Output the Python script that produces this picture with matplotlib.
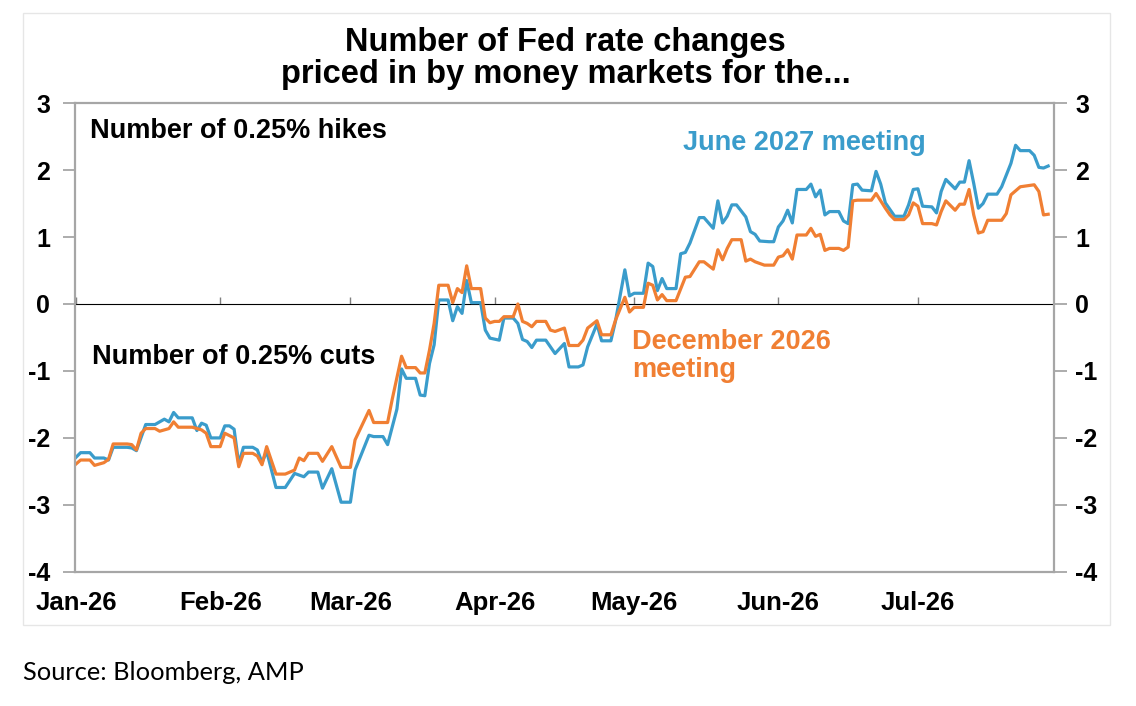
import pandas as pd
import matplotlib.pyplot as plt
from matplotlib.patches import Rectangle

plt.rcParams['font.family'] = ['Liberation Sans', 'DejaVu Sans']

# day offsets from 1 Jan 2026 and number of 0.25% moves priced in
start = pd.Timestamp('2026-01-01')

june27_days = [0, 1, 3, 4, 6, 7, 8, 11, 12, 13, 15, 17, 19, 20, 21, 22, 25, 26, 27, 28,
               29, 31, 32, 33, 34, 35, 36, 38, 39, 40, 41, 43, 45, 47, 49, 50, 52, 53, 55, 57,
               59, 60, 63, 64, 66, 67, 69, 70, 71, 73, 74, 75, 76, 77, 78, 80, 81, 82, 83, 84,
               85, 87, 88, 89, 91, 92, 94, 95, 96, 97, 98, 99, 101, 103, 105, 106, 108, 109, 110, 112,
               113, 115, 116, 118, 119, 120, 122, 123, 124, 125, 126, 127, 129, 130, 131, 132, 134, 135, 137, 138,
               139, 140, 141, 142, 144, 145, 146, 147, 149, 150, 151, 152, 153, 154, 155, 157, 158, 159, 160, 161,
               162, 164, 165, 166, 167, 168, 169, 171, 172, 173, 174, 176, 178, 179, 180, 181, 182, 184, 185, 186,
               187, 189, 190, 191, 192, 193, 194, 195, 196, 198, 199, 201, 202, 203, 205, 206, 207, 208, 209]
june27_vals = [-2.29, -2.22, -2.22, -2.30, -2.30, -2.33, -2.14, -2.14, -2.15, -2.19, -1.80, -1.80, -1.72, -1.76, -1.62, -1.70, -1.70, -1.89, -1.78, -1.81,
               -2.00, -2.00, -1.82, -1.82, -1.87, -2.39, -2.14, -2.14, -2.18, -2.37, -2.20, -2.74, -2.74, -2.53, -2.58, -2.51, -2.51, -2.75, -2.46, -2.96,
               -2.96, -2.48, -1.96, -1.98, -1.98, -2.10, -1.57, -0.97, -1.11, -1.11, -1.36, -1.37, -0.89, -0.61, 0.06, 0.06, -0.25, -0.04, -0.14, 0.35,
               0.02, 0.02, -0.39, -0.51, -0.54, -0.21, -0.21, -0.29, -0.53, -0.56, -0.65, -0.54, -0.54, -0.74, -0.59, -0.94, -0.94, -0.91, -0.64, -0.30,
               -0.55, -0.55, -0.25, 0.51, 0.12, 0.16, 0.16, 0.61, 0.56, 0.20, 0.38, 0.23, 0.23, 0.75, 0.77, 0.91, 1.29, 1.29, 1.13, 1.54,
               1.21, 1.31, 1.48, 1.48, 1.30, 1.08, 1.04, 0.94, 0.93, 0.93, 1.15, 1.24, 1.40, 1.21, 1.71, 1.71, 1.79, 1.60, 1.70, 1.33,
               1.38, 1.38, 1.24, 1.20, 1.78, 1.79, 1.70, 1.69, 1.98, 1.79, 1.51, 1.31, 1.31, 1.48, 1.71, 1.72, 1.46, 1.45, 1.36, 1.68,
               1.86, 1.72, 1.82, 1.82, 2.14, 1.80, 1.43, 1.50, 1.64, 1.64, 1.75, 2.10, 2.37, 2.29, 2.29, 2.22, 2.04, 2.03, 2.06]

dec26_days = [0, 1, 3, 4, 6, 7, 8, 11, 12, 13, 14, 15, 17, 18, 20, 21, 22, 25, 27, 28,
              29, 31, 32, 34, 35, 36, 38, 39, 40, 41, 43, 45, 47, 48, 49, 50, 52, 53, 55, 57,
              59, 60, 63, 64, 67, 68, 70, 71, 73, 74, 75, 76, 77, 78, 80, 81, 82, 83, 84, 85,
              87, 88, 89, 90, 91, 92, 94, 95, 96, 97, 98, 99, 101, 102, 103, 105, 106, 108, 109, 110,
              112, 113, 115, 116, 118, 119, 120, 122, 123, 124, 125, 126, 127, 129, 131, 132, 134, 135, 137, 138,
              139, 140, 141, 143, 144, 145, 146, 148, 150, 151, 152, 153, 154, 155, 157, 158, 159, 160, 161, 162,
              164, 165, 166, 167, 168, 171, 172, 173, 174, 175, 176, 178, 179, 180, 181, 182, 184, 185, 186, 187,
              189, 190, 191, 192, 193, 194, 195, 196, 199, 200, 201, 203, 204, 206, 207, 208, 209]
dec26_vals = [-2.39, -2.33, -2.33, -2.41, -2.37, -2.32, -2.09, -2.09, -2.10, -2.18, -1.93, -1.86, -1.86, -1.90, -1.86, -1.76, -1.84, -1.84, -1.88, -1.93,
              -2.13, -2.13, -1.93, -2.00, -2.43, -2.23, -2.23, -2.27, -2.40, -2.13, -2.54, -2.54, -2.48, -2.30, -2.34, -2.23, -2.23, -2.35, -2.13, -2.44,
              -2.44, -2.03, -1.59, -1.77, -1.77, -1.42, -0.78, -0.95, -0.95, -1.03, -1.03, -0.69, -0.29, 0.28, 0.28, 0.02, 0.23, 0.17, 0.57, 0.23,
              0.23, -0.21, -0.28, -0.26, -0.26, -0.19, -0.19, 0.00, -0.26, -0.29, -0.34, -0.26, -0.26, -0.39, -0.41, -0.36, -0.62, -0.62, -0.54, -0.36,
              -0.25, -0.46, -0.46, -0.24, 0.10, -0.12, -0.05, -0.05, 0.31, 0.28, 0.06, 0.14, 0.05, 0.05, 0.40, 0.41, 0.63, 0.63, 0.52, 0.81,
              0.66, 0.83, 0.96, 0.96, 0.64, 0.67, 0.63, 0.58, 0.58, 0.70, 0.72, 0.81, 0.67, 1.03, 1.03, 1.13, 1.01, 1.04, 0.80, 0.83,
              0.83, 0.80, 0.85, 1.54, 1.55, 1.55, 1.65, 1.54, 1.43, 1.33, 1.26, 1.26, 1.33, 1.51, 1.46, 1.20, 1.20, 1.18, 1.38, 1.54,
              1.40, 1.49, 1.49, 1.71, 1.33, 1.06, 1.08, 1.25, 1.25, 1.35, 1.63, 1.75, 1.76, 1.78, 1.68, 1.33, 1.34]

month_starts = pd.date_range('2026-01-01', periods=7, freq='MS')
month_labels = ['Jan-26', 'Feb-26', 'Mar-26', 'Apr-26', 'May-26', 'Jun-26', 'Jul-26']
y_ticks = [-4, -3, -2, -1, 0, 1, 2, 3]

blue = '#3a9ccb'
orange = '#f07f33'
spine_grey = '#a6a6a6'

june27_dates = start + pd.to_timedelta(june27_days, unit='D')
dec26_dates = start + pd.to_timedelta(dec26_days, unit='D')

fig = plt.figure(figsize=(11.36, 7.06), dpi=100)

# faint frame around the chart
fig.patches.append(Rectangle((0.020, 0.115), 0.957, 0.867, transform=fig.transFigure,
                             fill=False, edgecolor='#e6e6e6', linewidth=1))

ax = fig.add_axes([0.066, 0.190, 0.862, 0.664])
ax.plot(june27_dates, june27_vals, color=blue, lw=2.3, solid_joinstyle='round')
ax.plot(dec26_dates, dec26_vals, color=orange, lw=2.3, solid_joinstyle='round')

ax.set_xlim(start - pd.Timedelta(hours=5), start + pd.Timedelta(days=210.3))
ax.set_ylim(-4, 3)
ax.set_yticks(y_ticks)
ax.set_yticklabels([str(v) for v in y_ticks])
ax.set_xticks(month_starts)
ax.set_xticklabels(month_labels)
ax.tick_params(axis='x', length=0, pad=14, labelsize=18.5)
ax.tick_params(axis='y', length=9, width=1.3, color=spine_grey, labelsize=18, pad=9)
for lab in ax.get_xticklabels() + ax.get_yticklabels():
    lab.set_fontweight('bold')

for side in ['left', 'right', 'top', 'bottom']:
    ax.spines[side].set_color(spine_grey)
    ax.spines[side].set_linewidth(1.6)

# right hand axis with the same scale
ax_r = ax.twinx()
ax_r.set_ylim(ax.get_ylim())
ax_r.set_yticks(y_ticks)
ax_r.set_yticklabels([str(v) for v in y_ticks])
ax_r.tick_params(axis='y', length=9, width=1.3, color=spine_grey, labelsize=18, pad=6)
for lab in ax_r.get_yticklabels():
    lab.set_fontweight('bold')
for side in ['left', 'right', 'top', 'bottom']:
    ax_r.spines[side].set_visible(False)

# zero line with month ticks
zero_ax = ax.secondary_xaxis(4 / 7)
zero_ax.set_xticks(month_starts)
zero_ax.set_xticklabels([])
zero_ax.tick_params(axis='x', length=5, width=1, color='#7f7f7f', direction='out')
zero_ax.spines['bottom'].set_color('#7f7f7f')
zero_ax.spines['bottom'].set_linewidth(1.0)

ax.text(0.015, 0.940, 'Number of 0.25% hikes', transform=ax.transAxes,
        fontsize=19.5, fontweight='bold', va='center', ha='left')
ax.text(0.017, 0.458, 'Number of 0.25% cuts', transform=ax.transAxes,
        fontsize=19.5, fontweight='bold', va='center', ha='left')
ax.text(0.621, 0.915, 'June 2027 meeting', transform=ax.transAxes,
        fontsize=19.5, fontweight='bold', va='center', ha='left', color=blue)
ax.text(0.569, 0.460, 'December 2026\nmeeting', transform=ax.transAxes,
        fontsize=19.5, fontweight='bold', va='center', ha='left', color=orange,
        linespacing=1.12)

fig.text(0.498, 1 - 42 / 706, 'Number of Fed rate changes', ha='center', va='center',
         fontsize=23.5, fontweight='bold')
fig.text(0.498, 1 - 75 / 706, 'priced in by money markets for the...', ha='center', va='center',
         fontsize=23.5, fontweight='bold')

fig.text(0.020, 1 - 672 / 706, 'Source: Bloomberg, AMP', ha='left', va='center',
         fontsize=18.3, family=['Lato', 'DejaVu Sans'])

fig.savefig('out.png', dpi=100)
